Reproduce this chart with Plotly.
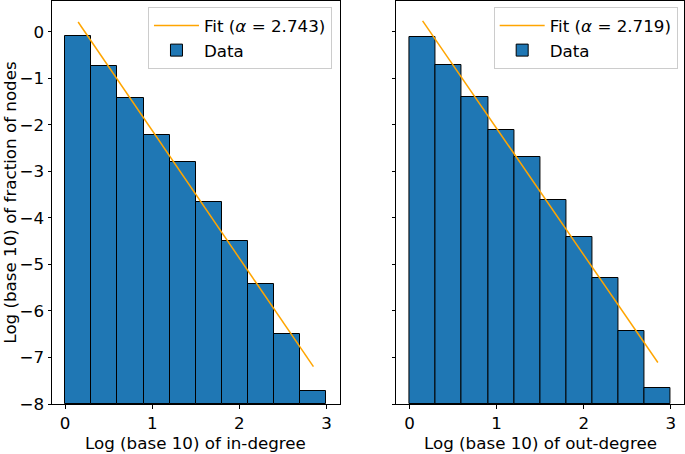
import plotly.graph_objects as go

# Bin left edges (log10 degree), bin width 0.3
bin_left = [0.0, 0.3, 0.6, 0.9, 1.2, 1.5, 1.8, 2.1, 2.4, 2.7]
bin_width = 0.3
in_values = [-0.10, -0.74, -1.43, -2.22, -2.79, -3.65, -4.50, -5.42, -6.49, -7.71]
out_values = [-0.11, -0.71, -1.41, -2.12, -2.70, -3.61, -4.42, -5.30, -6.44, -7.65]
in_alpha, in_intercept = 2.743, 0.62
out_alpha, out_intercept = 2.719, 0.64
fit_x = [0.15, 2.85]
bar_base = -8.0
x_titles = ["Log (base 10) of in-degree", "Log (base 10) of out-degree"]
y_title = "Log (base 10) of fraction of nodes"

centers = [b + bin_width / 2 for b in bin_left]

FONT = "DejaVu Sans"
FS = 16.7
fig = go.Figure()

def add_panel(values, alpha, intercept, xa, ya, legend):
    fig.add_trace(go.Scatter(
        x=fit_x, y=[intercept - alpha * x for x in fit_x], mode="lines",
        line=dict(color="#FFA500", width=1.5),
        name=f"Fit (<i>α</i> = {alpha:.3f})", xaxis=xa, yaxis=ya, legend=legend))
    fig.add_trace(go.Bar(
        x=centers, y=[v - bar_base for v in values], base=bar_base, width=bin_width,
        marker=dict(color="#1f77b4", line=dict(color="black", width=1)),
        name="Data", xaxis=xa, yaxis=ya, legend=legend))

add_panel(in_values, in_alpha, in_intercept, "x", "y", "legend")
add_panel(out_values, out_alpha, out_intercept, "x2", "y2", "legend2")

axis_common = dict(showline=True, linecolor="black", linewidth=1, mirror=True,
                   ticks="outside", ticklen=3.5, tickcolor="black", showgrid=False,
                   zeroline=False, automargin=False,
                   tickfont=dict(family=FONT, size=FS, color="black"))

xticks = [0, 1, 2, 3]
yticks = [-8, -7, -6, -5, -4, -3, -2, -1, 0]
ytext = [str(t).replace("-", "−") for t in yticks]

legend_common = dict(bgcolor="rgba(255,255,255,0.8)", bordercolor="#cccccc", borderwidth=1,
                     font=dict(family=FONT, size=FS, color="black"), itemwidth=45,
                     xanchor="right", yanchor="top", traceorder="normal")

dom1 = [0, 0.455]
dom2 = [0.545, 1]

fig.update_layout(
    width=685, height=454,
    margin=dict(l=52, r=1, t=1, b=50),
    plot_bgcolor="white", paper_bgcolor="white",
    font=dict(family=FONT, size=FS, color="black"),
    bargap=0,
    xaxis=dict(domain=dom1, range=[-0.15, 3.15], tickvals=xticks, **axis_common),
    yaxis=dict(range=[-8, 0.66], tickvals=yticks, ticktext=ytext,
               title=dict(text=y_title, standoff=4,
                          font=dict(family=FONT, size=FS)), **axis_common),
    xaxis2=dict(domain=dom2, range=[-0.15, 3.15], tickvals=xticks, anchor="y2",
                **axis_common),
    yaxis2=dict(range=[-8, 0.66], tickvals=yticks, showticklabels=False, anchor="x2",
                matches="y", **axis_common),
    legend=dict(x=0.443, y=0.985, **legend_common),
    legend2=dict(x=0.99, y=0.985, **legend_common),
)

for dom, txt in zip([dom1, dom2], x_titles):
    fig.add_annotation(text=txt, xref="paper", yref="paper", x=(dom[0] + dom[1]) / 2, y=0,
                       xanchor="center", yanchor="bottom", yshift=-50, showarrow=False,
                       borderpad=0, font=dict(family=FONT, size=FS, color="black"))

fig.write_html("out.html", config={"displayModeBar": False},
               post_script="document.body.style.margin='0';")
